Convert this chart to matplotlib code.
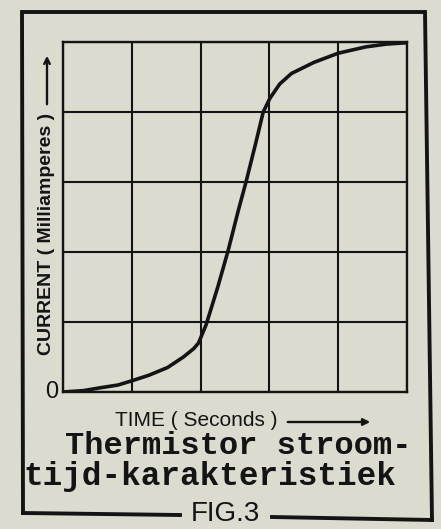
import numpy as np
import matplotlib.pyplot as plt
from matplotlib.lines import Line2D

# curve, in grid squares (5 x 5)
time_s = [0, 0.3, 0.54, 0.8, 1.0, 1.25, 1.52, 1.75, 1.9, 1.97, 2.08, 2.25,
          2.4, 2.55, 2.66, 2.8, 2.91, 3.01, 3.15, 3.32, 3.65, 4.0, 4.4, 4.7, 5.0]
current_ma = [0, 0.02, 0.06, 0.1, 0.16, 0.24, 0.35, 0.5, 0.62, 0.7, 0.96, 1.5,
              2.02, 2.6, 3.0, 3.55, 4.0, 4.2, 4.4, 4.55, 4.71, 4.84, 4.93, 4.97, 4.99]
grid_ticks = [0, 1, 2, 3, 4, 5]

title_lines = ["Thermistor stroom-", "tijd-karakteristiek"]

paper = "#dcdbcf"
ink = "#141414"

W, H = 441, 529
def fx(px):
    return px / W
def fy(py):
    return 1 - py / H

fig = plt.figure(figsize=(4.41, 5.29), dpi=100, facecolor=paper)
ax = fig.add_axes([fx(63), fy(392), (407 - 63) / W, (392 - 42) / H])
ax.set_facecolor(paper)

ax.plot(time_s, current_ma, color=ink, lw=2.6, solid_capstyle="round", zorder=3)

ax.set_xlim(0, 5)
ax.set_ylim(0, 5)
ax.set_xticks(grid_ticks)
ax.set_yticks(grid_ticks)
ax.tick_params(length=0, labelbottom=False, labelleft=False)
ax.grid(True, color=ink, lw=1.5)
for s in ax.spines.values():
    s.set_color(ink)
    s.set_linewidth(1.7)

# origin label
fig.text(fx(52), fy(392), "0", fontsize=17, color=ink,
         ha="center", va="center", family="Liberation Sans")

# axis labels with arrows
fig.text(fx(47), fy(234), "CURRENT ( Milliamperes )", rotation=90,
         fontsize=14, color=ink, ha="center", va="center",
         family="Liberation Sans", fontweight="bold")
fig.add_artist(plt.Annotation("", xy=(fx(47), fy(53)), xytext=(fx(47), fy(107)),
                              xycoords="figure fraction", textcoords="figure fraction",
                              arrowprops=dict(arrowstyle="->", color=ink, lw=1.7)))
fig.text(fx(196), fy(420), "TIME ( Seconds )", fontsize=15, color=ink,
         ha="center", va="center", family="Liberation Sans")
fig.add_artist(plt.Annotation("", xy=(fx(373), fy(422)), xytext=(fx(285), fy(422)),
                              xycoords="figure fraction", textcoords="figure fraction",
                              arrowprops=dict(arrowstyle="-|>", color=ink, lw=1.7)))

# caption
fig.text(fx(238), fy(446), title_lines[0], fontsize=23, color=ink,
         ha="center", va="center", family="Liberation Mono", fontweight="bold")
fig.text(fx(210), fy(476), title_lines[1], fontsize=23.5, color=ink,
         ha="center", va="center", family="Liberation Mono", fontweight="bold")

# outer frame (photo is slightly skewed), broken at the bottom by the figure number
frame_kw = dict(color=ink, lw=2.8, transform=fig.transFigure, solid_joinstyle="miter")
fig.add_artist(Line2D([fx(23), fx(22), fx(425), fx(432)],
                      [fy(513), fy(12), fy(12), fy(520)], **frame_kw))
fig.add_artist(Line2D([fx(23), fx(180)], [fy(513), fy(515)], **frame_kw))
fig.add_artist(Line2D([fx(272), fx(432)], [fy(517), fy(520)], **frame_kw))
fig.text(fx(225), fy(514), "FIG.3", fontsize=20, color=ink,
         ha="center", va="center", family="Liberation Sans")

fig.savefig("out.png", dpi=100, facecolor=paper)
